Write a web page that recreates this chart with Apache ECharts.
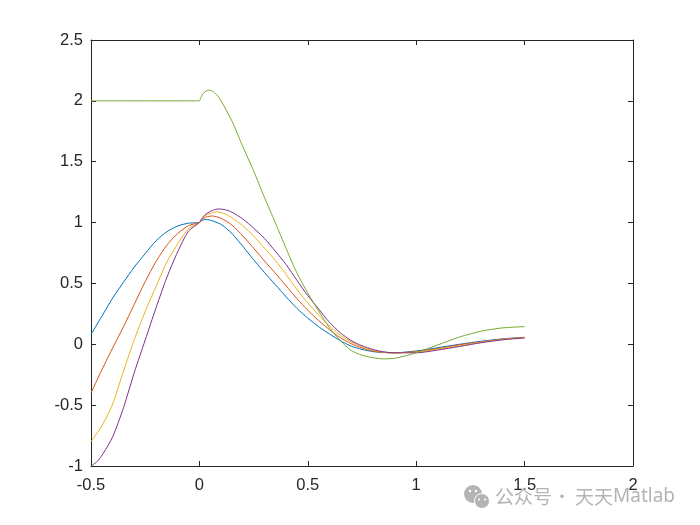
<!DOCTYPE html>
<html>
<head>
<meta charset="utf-8">
<style>html,body{margin:0;padding:0;background:#fff}#c{width:700px;height:525px}</style>
<script src="https://cdn.jsdelivr.net/npm/echarts@6/dist/echarts.min.js"></script>
</head>
<body>
<div id="c"></div>
<script>
const xTicks = [-0.5, 0, 0.5, 1, 1.5, 2];
const yTicks = [-1, -0.5, 0, 0.5, 1, 1.5, 2, 2.5];

const blueX = [-0.5,-0.45,-0.4,-0.35,-0.3,-0.25,-0.2,-0.15,-0.1,-0.05,0,0.01,0.025,0.05,0.1,0.15,0.2,0.25,0.3,0.35,0.4,0.45,0.5,0.55,0.6,0.65,0.7,0.75,0.8,0.85,0.9,1,1.1,1.2,1.3,1.4,1.5];
const blueY = [0.08,0.23,0.38,0.51,0.635,0.745,0.85,0.925,0.972,0.995,1,1.015,1.025,1.02,0.985,0.91,0.805,0.695,0.59,0.49,0.39,0.295,0.215,0.145,0.085,0.03,-0.015,-0.042,-0.06,-0.068,-0.07,-0.055,-0.028,0,0.025,0.045,0.057];

const orangeX = [-0.5,-0.45,-0.4,-0.35,-0.3,-0.25,-0.2,-0.15,-0.1,-0.05,0,0.01,0.03,0.06,0.1,0.15,0.2,0.25,0.3,0.35,0.4,0.45,0.5,0.55,0.6,0.65,0.7,0.75,0.8,0.85,0.9,1,1.1,1.2,1.3,1.4,1.5];
const orangeY = [-0.4,-0.21,-0.03,0.145,0.33,0.515,0.68,0.815,0.91,0.975,1,1.02,1.045,1.054,1.035,0.98,0.89,0.79,0.685,0.585,0.48,0.375,0.28,0.195,0.12,0.055,0.005,-0.03,-0.055,-0.067,-0.07,-0.06,-0.035,-0.005,0.02,0.042,0.055];

const yellowX = [-0.5,-0.45,-0.4,-0.35,-0.3,-0.25,-0.2,-0.15,-0.1,-0.05,0,0.01,0.03,0.06,0.08,0.12,0.15,0.2,0.25,0.3,0.35,0.4,0.45,0.5,0.55,0.6,0.65,0.7,0.75,0.8,0.85,0.9,1,1.1,1.2,1.3,1.4,1.5];
const yellowY = [-0.8,-0.67,-0.49,-0.22,0.04,0.27,0.475,0.675,0.825,0.95,1,1.025,1.06,1.082,1.088,1.07,1.04,0.975,0.89,0.79,0.69,0.575,0.45,0.34,0.24,0.15,0.075,0.02,-0.02,-0.048,-0.065,-0.07,-0.065,-0.04,-0.012,0.017,0.04,0.055];

const purpleX = [-0.5,-0.47,-0.443,-0.4,-0.35,-0.3,-0.25,-0.2,-0.15,-0.1,-0.05,0,0.01,0.03,0.06,0.09,0.12,0.15,0.2,0.25,0.3,0.35,0.4,0.45,0.5,0.55,0.6,0.65,0.7,0.75,0.8,0.85,0.9,1,1.1,1.2,1.3,1.4,1.5];
const purpleY = [-1,-0.96,-0.895,-0.76,-0.52,-0.23,0.035,0.3,0.55,0.76,0.93,1,1.03,1.07,1.1,1.112,1.105,1.085,1.03,0.955,0.87,0.765,0.655,0.525,0.4,0.29,0.18,0.095,0.03,-0.012,-0.042,-0.062,-0.07,-0.07,-0.047,-0.018,0.013,0.037,0.052];

const greenX = [-0.5,-0.25,-0.05,-0.01,0,0.005,0.015,0.03,0.045,0.06,0.08,0.1,0.15,0.2,0.25,0.3,0.35,0.4,0.45,0.5,0.55,0.6,0.65,0.7,0.75,0.8,0.85,0.9,0.95,1,1.1,1.2,1.3,1.4,1.5];
const greenY = [2,2,2,2,2,2.02,2.055,2.08,2.088,2.08,2.05,2,1.835,1.625,1.425,1.207,1,0.787,0.585,0.42,0.275,0.135,0.03,-0.05,-0.09,-0.11,-0.12,-0.115,-0.095,-0.07,-0.005,0.06,0.108,0.135,0.145];

const curves = [
  [blueX, blueY, '#0072BD'],
  [orangeX, orangeY, '#D95319'],
  [yellowX, yellowY, '#EDB120'],
  [purpleX, purpleY, '#7E2F8E'],
  [greenX, greenY, '#77AC30']
];

const ink = '#262626';
const labelFont = {color: ink, fontFamily: '"Liberation Sans", Arial, sans-serif', fontSize: 16.5};
const mkX = (pos, show) => ({
  type: 'value', position: pos, min: -0.5, max: 2, interval: 0.5,
  axisLine: {show: true, onZero: false, lineStyle: {color: ink, width: 1}},
  axisTick: {show: true, inside: true, length: 5, lineStyle: {color: ink, width: 1}},
  splitLine: {show: false},
  axisLabel: {show: show, margin: 11, hideOverlap: false, ...labelFont, formatter: v => String(v)}
});
const mkY = (pos, show) => ({
  type: 'value', position: pos, min: -1, max: 2.5, interval: 0.5,
  axisLine: {show: true, onZero: false, lineStyle: {color: ink, width: 1}},
  axisTick: {show: true, inside: true, length: 5, lineStyle: {color: ink, width: 1}},
  splitLine: {show: false},
  axisLabel: {show: show, margin: 8, hideOverlap: false, ...labelFont, formatter: v => String(v)}
});

const wm = '#b4b4b4';
const cjk = '"Noto Sans CJK SC", sans-serif';
const chart = echarts.init(document.getElementById('c'), null, {renderer: 'canvas'});
chart.setOption({
  animation: false,
  backgroundColor: '#fff',
  grid: {left: 91, right: 67, top: 40, bottom: 59, containLabel: false},
  xAxis: [mkX('bottom', true), mkX('top', false)],
  yAxis: [mkY('left', true), mkY('right', false)],
  series: curves.map(([xs, ys, color]) => ({
    type: 'line',
    showSymbol: false,
    smooth: 0.25,
    lineStyle: {color, width: 1},
    data: xs.map((x, i) => [x, ys[i]])
  })),
  graphic: [
    {type: 'circle', shape: {cx: 473, cy: 494, r: 9}, style: {fill: wm}, z: 1},
    {type: 'circle', shape: {cx: 482, cy: 501, r: 7.5}, style: {fill: wm, stroke: '#fff', lineWidth: 1}, z: 2},
    {type: 'circle', shape: {cx: 470, cy: 491, r: 1.2}, style: {fill: '#fff'}, z: 3},
    {type: 'circle', shape: {cx: 476, cy: 491, r: 1.2}, style: {fill: '#fff'}, z: 3},
    {type: 'circle', shape: {cx: 479, cy: 499.5, r: 1.1}, style: {fill: '#fff'}, z: 3},
    {type: 'circle', shape: {cx: 485, cy: 499.5, r: 1.1}, style: {fill: '#fff'}, z: 3},
    {type: 'text', x: 495, y: 497, z: 3, style: {text: '公众号', fill: wm, fontFamily: cjk, fontSize: 19, verticalAlign: 'middle'}},
    {type: 'text', x: 562, y: 497, z: 3, style: {text: '·', fill: wm, fontFamily: cjk, fontSize: 17, align: 'center', verticalAlign: 'middle'}},
    {type: 'text', x: 575, y: 497, z: 3, style: {text: '天天', fill: wm, fontFamily: cjk, fontSize: 19, verticalAlign: 'middle'}},
    {type: 'text', x: 613, y: 497, z: 3, style: {text: 'Matlab', fill: wm, fontFamily: '"Noto Sans", sans-serif', fontSize: 19, verticalAlign: 'middle'}}
  ]
});
</script>
</body>
</html>
